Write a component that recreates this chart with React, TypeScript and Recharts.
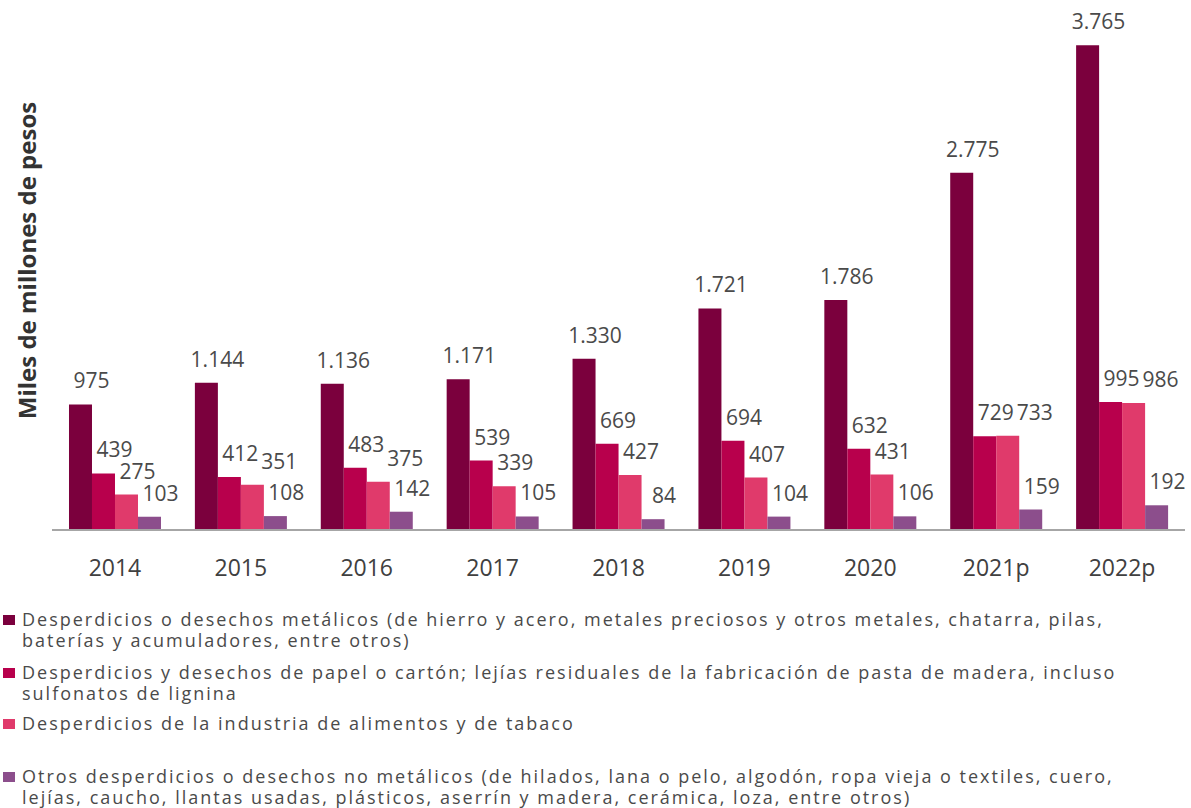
import React from 'react';
import { BarChart, Bar, XAxis, YAxis, LabelList } from 'recharts';

const years = ['2014', '2015', '2016', '2017', '2018', '2019', '2020', '2021p', '2022p'];
const metalicos = [975, 1144, 1136, 1171, 1330, 1721, 1786, 2775, 3765];
const papel = [439, 412, 483, 539, 669, 694, 632, 729, 995];
const alimentos = [275, 351, 375, 339, 427, 407, 431, 733, 986];
const otros = [103, 108, 142, 105, 84, 104, 106, 159, 192];

const seriesKeys = ['metalicos', 'papel', 'alimentos', 'otros'];
const seriesValues = [metalicos, papel, alimentos, otros];
const seriesColors = ['#7B003D', '#B8004C', '#E03A6B', '#8C4E8C'];
const seriesNames = [
  [
    'Desperdicios o desechos metálicos (de hierro y acero, metales preciosos y otros metales, chatarra, pilas,',
    'baterías y acumuladores, entre otros)',
  ],
  [
    'Desperdicios y desechos de papel o cartón; lejías residuales de la fabricación de pasta de madera, incluso',
    'sulfonatos de lignina',
  ],
  ['Desperdicios de la industria de alimentos y de tabaco'],
  [
    'Otros desperdicios o desechos no metálicos (de hilados, lana o pelo, algodón, ropa vieja o textiles, cuero,',
    'lejías, caucho, llantas usadas, plásticos, aserrín y madera, cerámica, loza, entre otros)',
  ],
];
const legendGaps = [0, 11, 9, 32];

const data = years.map((year, i) => ({
  year,
  metalicos: metalicos[i],
  papel: papel[i],
  alimentos: alimentos[i],
  otros: otros[i],
}));

const FONT = '"Open Sans", sans-serif';

// es-CO style thousands separator
const fmt = (v: number) => String(v).replace(/\B(?=(\d{3})+(?!\d))/g, '.');
const textW = (s: string) => s.replace(/\./g, '').length * 12 + (s.includes('.') ? 6 : 0);

// place the labels of one year group left to right, nudging a label right when it
// would run into the one before it (like the original's hand-placed labels)
function groupLabels(index: number, series: number, x: number, width: number, y: number, height: number) {
  const value = seriesValues[series][index];
  const base = y + height;
  const k = value ? height / value : 0;
  const x0 = x - series * width;
  const out: { cx: number; by: number }[] = [];
  for (let s = 0; s <= series; s++) {
    const v = seriesValues[s][index];
    const w = textW(fmt(v));
    let cx = x0 + s * width + width / 2 + 11;
    const by = base - v * k - 16;
    if (s > 0) {
      const p = out[s - 1];
      const pw = textW(fmt(seriesValues[s - 1][index]));
      const pr = p.cx + pw / 2;
      const vOverlap = by > p.by - 16 && by - 16 < p.by;
      if (vOverlap && cx - w / 2 < pr + 3) cx = pr + w / 2 + 3;
    }
    out.push({ cx, by });
  }
  return out[series];
}

const makeLabel = (series: number) => (props: any) => {
  const { x, y, width, height, value, index } = props;
  const pos = groupLabels(index, series, Number(x), Number(width), Number(y), Number(height));
  return (
    <text x={pos.cx} y={pos.by} textAnchor="middle" fontSize={21} fontFamily={FONT} fill="#4a4a4a">
      {fmt(value)}
    </text>
  );
};

const YearTick = (props: any) => {
  const { x, y, payload } = props;
  return (
    <text x={x} y={y + 44} textAnchor="middle" fontSize={23} fontFamily={FONT} fill="#404040">
      {payload.value}
    </text>
  );
};

const YTitle = (props: any) => {
  const { viewBox } = props;
  const cx = 26;
  const cy = viewBox.y + viewBox.height / 2 - 12;
  return (
    <text
      x={cx}
      y={cy}
      transform={`rotate(-90 ${cx} ${cy})`}
      textAnchor="middle"
      dominantBaseline="central"
      fontSize={24}
      fontWeight={700}
      fontFamily={FONT}
      fill="#333"
    >
      Miles de millones de pesos
    </text>
  );
};

export default function App() {
  return (
    <div style={{ position: 'absolute', left: 0, top: 0, width: 1191, height: 808, background: '#fff' }}>
      <BarChart
        width={1191}
        height={600}
        data={data}
        margin={{ top: 15, right: 6, left: 0, bottom: 10 }}
        barCategoryGap="13.5%"
        barGap={0}
      >
        <YAxis
          width={52}
          domain={[0, 4000]}
          tick={false}
          axisLine={false}
          tickLine={false}
          label={<YTitle />}
        />
        <XAxis
          dataKey="year"
          height={60}
          tickLine={false}
          tickSize={0}
          axisLine={{ stroke: '#a6a6a6', strokeWidth: 2 }}
          tick={<YearTick />}
          interval={0}
        />
        {seriesKeys.map((k, i) => (
          <Bar key={k} dataKey={k} fill={seriesColors[i]} isAnimationActive={false}>
            <LabelList dataKey={k} content={makeLabel(i)} />
          </Bar>
        ))}
      </BarChart>
      <div
        style={{
          position: 'absolute',
          left: 0,
          top: 609,
          fontFamily: FONT,
          fontSize: 18,
          letterSpacing: 2,
          color: '#4a4a4a',
          lineHeight: '21px',
        }}
      >
        {seriesNames.map((lines, i) => (
          <div key={i} style={{ position: 'relative', paddingLeft: 22, marginTop: legendGaps[i] }}>
            <span
              style={{
                position: 'absolute',
                left: 3,
                top: 6,
                width: 12,
                height: 10,
                background: seriesColors[i],
              }}
            />
            {lines.map((l, j) => (
              <div key={j} style={{ whiteSpace: 'nowrap' }}>{l}</div>
            ))}
          </div>
        ))}
      </div>
    </div>
  );
}
